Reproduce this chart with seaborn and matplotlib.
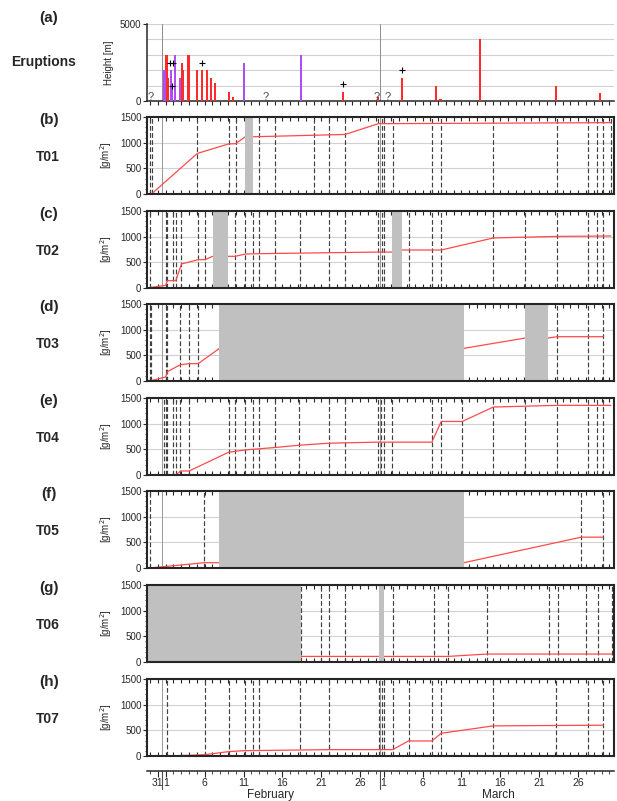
import numpy as np
import pandas as pd
import seaborn as sns
import matplotlib.pyplot as plt
from matplotlib.ticker import MultipleLocator
from matplotlib.transforms import blended_transform_factory

# day 0 = 1 February, day 28 = 1 March
erupt_day = [-0.15, 0.1, 0.35, 0.65, 0.85, 1.2, 1.86, 2.07, 2.27, 2.93, 4.04, 4.7, 5.3, 5.8,
             6.3, 8.1, 8.65, 10.06, 17.35, 22.8, 27.3, 30.35, 34.75, 35.3, 40.4, 50.1, 55.85]
erupt_height = [2000, 3000, 1500, 2000, 1000, 3000, 1500, 2500, 2000, 3000, 2000, 2000, 2000, 1500,
                1200, 560, 280, 2500, 3000, 560, 280, 1500, 1000, 130, 4000, 1000, 500]
erupt_kind = ['p', 'r', 'r', 'p', 'p', 'p', 'p', 'r', 'r', 'r', 'r', 'r', 'r', 'r',
              'r', 'r', 'r', 'p', 'p', 'r', 'r', 'r', 'r', 'r', 'r', 'r', 'r']
plus_day = [0.6, 0.9, 0.85, 4.7, 22.8, 30.35]
plus_height = [2500, 2500, 1000, 2500, 1100, 2000]
query_day = [-1.9, 12.8, 27.1, 28.5]

sites = ['T01', 'T02', 'T03', 'T04', 'T05', 'T06', 'T07']
panel_tags = ['(b)', '(c)', '(d)', '(e)', '(f)', '(g)', '(h)']

load_day = {
    'T01': [-1.82, 4.06, 8.08, 8.98, 10.24, 11.23, 23.07, 27.3, 57.2],
    'T02': [-2.4, 0.0, 0.22, 1.3, 2.03, 4.19, 5.05, 6.05, 8.94, 10.24, 12.05, 27.3, 29.03,
            30.41, 35.4, 42.1, 50.3, 57.2],
    'T03': [-2.07, 0.0, 0.22, 1.9, 3.02, 4.19, 6.91, 38.3, 46.2, 49.1, 50.3, 56.2],
    'T04': [-0.26, 1.3, 1.9, 3.02, 8.08, 10.24, 14.0, 17.15, 21.04, 27.3, 34.2, 35.4, 38.1,
            42.1, 50.3, 57.2],
    'T05': [-2.4, -2.07, 4.97, 6.91, 38.3, 53.4, 56.2],
    'T06': [-2.4, 17.3, 17.36, 36.3, 41.3, 57.3],
    'T07': [0.17, 5.05, 8.08, 10.15, 21.04, 29.16, 31.2, 34.2, 35.4, 42.1, 56.2],
}
load_val = {
    'T01': [0, 790, 975, 980, 1115, 1115, 1160, 1370, 1390],
    'T02': [0, 52, 143, 143, 468, 552, 552, 617, 617, 662, 669, 700, 700, 740, 740, 975,
            1005, 1013],
    'T03': [0, 78, 182, 318, 338, 338, 636, 636, 837, 837, 863, 863],
    'T04': [0, 0, 78, 78, 443, 489, 535, 580, 620, 640, 640, 1043, 1043, 1324, 1357, 1357],
    'T05': [0, 0, 103, 103, 103, 601, 601],
    'T06': [0, 0, 109, 109, 155, 155],
    'T07': [0, 26, 85, 104, 124, 124, 293, 293, 443, 587, 600],
}
sample_days = {
    'T01': [-1.99, -1.82, 4.06, 8.08, 8.98, 12.05, 14.0, 19.0, 21.04, 23.07, 27.3, 27.73,
            28.08, 29.16, 34.2, 35.4, 42.1, 50.3, 54.2, 55.4, 56.2, 57.2],
    'T02': [-2.07, 0.0, 0.22, 0.95, 1.3, 2.03, 4.19, 5.05, 8.94, 10.24, 11.23, 12.05, 14.0,
            17.28, 21.04, 22.98, 27.3, 27.73, 28.08, 31.27, 34.2, 35.4, 42.1, 46.2, 50.3,
            54.2, 55.4, 56.2],
    'T03': [-2.07, -1.94, 0.0, 0.22, 1.9, 3.02, 4.19, 50.3, 54.2, 56.2],
    'T04': [-0.26, 0.0, 0.22, 0.95, 1.3, 1.9, 3.02, 8.08, 8.94, 10.24, 11.23, 12.05, 14.0,
            17.15, 21.04, 23.07, 27.3, 27.65, 28.08, 29.03, 34.2, 35.4, 38.1, 42.1, 46.2,
            50.3, 54.2, 55.4, 56.2],
    'T05': [-2.07, 4.97, 53.4, 56.2],
    'T06': [17.36, 19.96, 20.95, 23.07, 29.16, 34.43, 36.3, 41.3, 49.3, 50.4, 53.95, 55.5, 57.3],
    'T07': [0.17, 5.05, 8.08, 10.15, 11.23, 12.05, 17.28, 21.04, 27.39, 27.73, 28.08, 29.16,
            31.2, 34.2, 35.4, 42.1, 50.2, 54.2, 56.2],
}
no_data = {
    'T01': [(10.24, 11.23)],
    'T02': [(6.05, 7.95), (29.03, 30.41)],
    'T03': [(6.91, 38.3), (46.2, 49.1)],
    'T04': [],
    'T05': [(6.91, 38.3)],
    'T06': [(-2.4, 17.36), (27.39, 28.08)],
    'T07': [],
}
date_ticks = [-1, 0, 5, 10, 15, 20, 25, 28, 33, 38, 43, 48, 53]
date_labels = ['31', '1', '6', '11', '16', '21', '26', '1', '6', '11', '16', '21', '26']
months = ['February', 'March']
month_centre = [13.5, 42.7]
month_start = [-0.45, 27.55]

df = pd.concat([pd.DataFrame({'site': s, 'day': load_day[s], 'load': load_val[s]}) for s in sites])
erupt = pd.DataFrame({'day': erupt_day, 'height': erupt_height, 'kind': erupt_kind})

sns.set_style('ticks')
plt.rcParams['font.family'] = ['Liberation Sans', 'DejaVu Sans']

W, H = 617, 801
fig = plt.figure(figsize=(W / 100, H / 100), dpi=100)
xlim = (-2.4, 57.6)
left, right = 147, 614


def box(top, bottom):
    return [left / W, 1 - bottom / H, (right - left) / W, (bottom - top) / H]


red = '#ff2a2a'
purple = '#b04cf5'

# (a) eruptions
ax = fig.add_axes(box(24, 101))
for kind, col in [('r', red), ('p', purple)]:
    sub = erupt[erupt.kind == kind]
    ax.bar(sub.day, sub.height, width=0.28, color=col, linewidth=0, zorder=3)
ax.scatter(plus_day, plus_height, marker='+', color='black', s=22, linewidths=0.8, zorder=4)
for d in query_day:
    ax.text(d, 250, '?', ha='center', va='center', fontsize=8, color='0.3')
ax.set_xlim(*xlim)
ax.set_ylim(0, 5000)
ax.set_yticks([0, 5000])
ax.yaxis.set_minor_locator(MultipleLocator(1000))
ax.grid(axis='y', which='both', color='0.82', lw=0.8)
ax.set_xticks([])
ax.xaxis.set_minor_locator(MultipleLocator(1))
ax.tick_params(axis='x', which='minor', length=3, direction='out', width=0.8)
ax.tick_params(axis='y', which='major', length=3, labelsize=7, pad=1)
ax.tick_params(axis='y', which='minor', length=0)
for s in ['top', 'right']:
    ax.spines[s].set_visible(False)
ax.spines['left'].set_linewidth(1.1)
ax.spines['bottom'].set_linewidth(1.1)
for m in month_start:
    ax.axvline(m, color='0.55', lw=0.7, zorder=1)
ax.set_ylabel('Height [m]', fontsize=7, labelpad=4)
fig.text(49 / W, 1 - 18 / H, '(a)', ha='center', va='center', fontsize=11, fontweight='bold')
fig.text(44 / W, 1 - 62 / H, 'Eruptions', ha='center', va='center', fontsize=10, fontweight='bold')

# (b)-(h) deposit loads
tops = [117, 211, 304, 398, 491, 585, 679]
for i, s in enumerate(sites):
    top = tops[i]
    ax = fig.add_axes(box(top, top + 77))
    for m in month_start:
        ax.axvline(m, color='0.6', lw=0.7, zorder=1)
    for d in sample_days[s]:
        ax.axvline(d, color='0.25', lw=0.85, ls=(0, (4, 2)), zorder=2)
    sns.lineplot(data=df[df.site == s], x='day', y='load', ax=ax, color='#ff4a4a', lw=0.9,
                 sort=False, estimator=None, zorder=3)
    for a, b in no_data[s]:
        ax.axvspan(a, b, color='#c0c0c0', lw=0, zorder=4)
    ax.set_xlim(*xlim)
    ax.set_ylim(0, 1500)
    ax.set_yticks([0, 500, 1000, 1500])
    ax.yaxis.set_minor_locator(MultipleLocator(100))
    ax.grid(axis='y', which='major', color='0.82', lw=0.8)
    ax.set_xticks([])
    ax.xaxis.set_minor_locator(MultipleLocator(1))
    ax.tick_params(axis='x', which='minor', length=3, direction='in', top=True, bottom=True,
                   width=0.8)
    ax.tick_params(axis='y', which='major', length=3, labelsize=7, pad=1)
    ax.tick_params(axis='y', which='minor', length=1.5)
    for sp in ax.spines.values():
        sp.set_linewidth(1.5)
        sp.set_zorder(5)
    ax.set_xlabel('')
    ax.set_ylabel('[g/m$^2$]', fontsize=7, labelpad=4)
    fig.text(49 / W, 1 - (top + 3) / H, panel_tags[i], ha='center', va='center', fontsize=11,
             fontweight='bold')
    fig.text(48 / W, 1 - (top + 40) / H, s, ha='center', va='center', fontsize=10,
             fontweight='bold')

# date axis
axd = fig.add_axes([left / W, 1 - 771 / H, (right - left) / W, 0.0001])
axd.set_xlim(*xlim)
for sp in ['left', 'right', 'top']:
    axd.spines[sp].set_visible(False)
axd.spines['bottom'].set_linewidth(1.1)
axd.set_yticks([])
axd.set_xticks(date_ticks, labels=date_labels)
axd.xaxis.set_minor_locator(MultipleLocator(1))
axd.tick_params(axis='x', which='major', length=4, direction='out', labelsize=7.5, pad=1)
axd.tick_params(axis='x', which='minor', length=2.5, direction='out')
tr = blended_transform_factory(axd.transData, fig.transFigure)
for m in month_start:
    axd.plot([m, m], [1 - 771 / H, 1 - 789 / H], color='0.3', lw=0.8, transform=tr, clip_on=False)
for name, c in zip(months, month_centre):
    axd.text(c, 1 - 795 / H, name, transform=tr, ha='center', va='center', fontsize=8.5)

fig.savefig('out.png', dpi=100)
